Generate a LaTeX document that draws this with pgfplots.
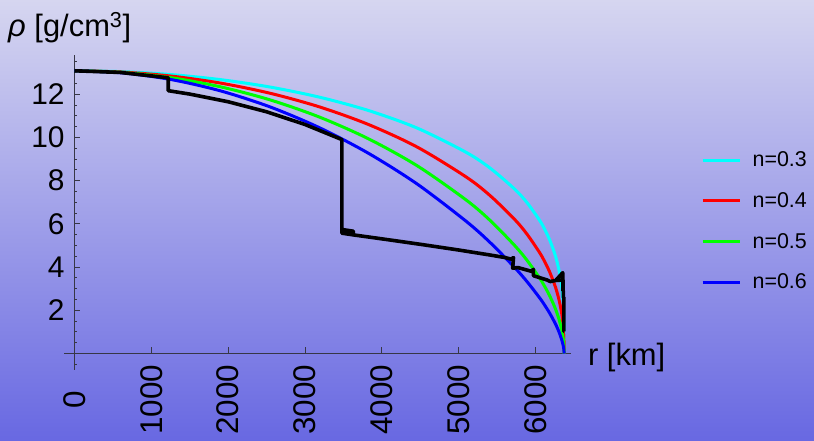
\documentclass[border=0pt]{standalone}
\usepackage{fontspec}
\setmainfont{Liberation Sans}
\usepackage{pgfplots}
\pgfplotsset{compat=1.18}
\definecolor{bgtop}{RGB}{214,214,240}
\definecolor{bgbot}{RGB}{104,104,226}
\definecolor{axcol}{RGB}{55,55,70}
\definecolor{ccyan}{RGB}{0,255,255}
\definecolor{cred}{RGB}{255,0,0}
\definecolor{cgreen}{RGB}{0,255,0}
\definecolor{cblue}{RGB}{0,0,255}
\begin{document}
\begin{tikzpicture}
\useasboundingbox (0,0) rectangle (814bp,441bp);
\shade[top color=bgtop, bottom color=bgbot] (0,0) rectangle (814bp,441bp);
\begin{axis}[
  at={(64.0bp,71.1bp)}, anchor=south west,
  x=0.0769bp, y=21.6bp,
  xmin=-134, xmax=6456, ymin=-0.76, ymax=13.82,
  axis lines=middle,
  axis line style={-, draw=axcol, line width=1bp},
  clip=false,
  hide obscured x ticks=false,
  hide obscured y ticks=false,
  xtick={0,1000,2000,3000,4000,5000,6000},
  ytick={2,4,6,8,10,12},
  minor ytick={-0.5,0.5,1,...,13.5},
  tick align=inside,
  major tick length=6bp, minor tick length=3bp,
  every tick/.style={draw=axcol, line width=0.8bp},
  /pgf/number format/assume math mode=true,
  /pgf/number format/1000 sep={},
  xticklabel style={font=\fontsize{31.5}{31.5}\selectfont, rotate=90, anchor=center, inner sep=0pt},
  xticklabel shift=46.5bp,
  yticklabel style={font=\fontsize{30}{30}\selectfont, anchor=east, inner sep=0pt},
  yticklabel shift=9.5bp,
  xlabel={r [km]},
  ylabel={\textit{ρ} [g/cm\textsuperscript{3}]},
  every axis x label/.style={at={(axis description cs:1.0339,0.0124)}, anchor=base west, inner sep=0pt, font=\fontsize{31}{31}\selectfont},
  every axis y label/.style={at={(axis description cs:-0.1105,1.0572)}, anchor=base west, inner sep=0pt, font=\fontsize{31}{31}\selectfont},
  legend cell align=left,
  legend image code/.code={\draw[#1] (0bp,0bp) -- (37bp,0bp);},
  legend style={at={(axis description cs:1.2569,0.6932)}, anchor=north west, draw=none, fill=none, inner sep=0pt, row sep=24.3bp, column sep=11.5bp, font=\fontsize{21.5}{21.5}\selectfont, nodes={inner sep=0pt}},
]
\addplot[ccyan, line width=3bp, smooth] coordinates {(0,13.09)(637.1,13.045)(1274.2,12.908)(1911.3,12.674)(2548.4,12.333)(3185.5,11.868)(3822.6,11.252)(4459.7,10.434)(5096.8,9.310)(5415.4,8.560)(5733.9,7.586)(5893.2,6.957)(6052.5,6.158)(6116.2,5.756)(6179.9,5.277)(6243.6,4.668)(6275.4,4.280)(6307.3,3.788)(6339.1,3.074)(6358.3,2.334)(6364.6,1.896)(6367.8,1.539)(6370.4,0.950)(6371,0)};
\addlegendentry{n=0.3}
\addplot[cred, line width=3bp, smooth] coordinates {(0,13.09)(637.1,13.027)(1274.2,12.836)(1911.3,12.512)(2548.4,12.045)(3185.5,11.419)(3822.6,10.605)(4459.7,9.556)(5096.8,8.170)(5415.4,7.284)(5733.9,6.178)(5893.2,5.497)(6052.5,4.664)(6116.2,4.260)(6179.9,3.792)(6243.6,3.218)(6275.4,2.865)(6307.3,2.433)(6339.1,1.842)(6358.3,1.276)(6364.6,0.966)(6370.4,0.384)(6371,0)};
\addlegendentry{n=0.4}
\addplot[cgreen, line width=3bp, smooth] coordinates {(0,13.09)(637.1,13.007)(1274.2,12.758)(1911.3,12.337)(2548.4,11.738)(3185.5,10.948)(3822.6,9.944)(4459.7,8.689)(5096.8,7.104)(5415.4,6.134)(5733.9,4.971)(5893.2,4.287)(6052.5,3.486)(6116.2,3.111)(6179.9,2.687)(6243.6,2.188)(6275.4,1.892)(6307.3,1.542)(6339.1,1.088)(6358.3,0.687)(6364.6,0.486)(6371,0)};
\addlegendentry{n=0.5}
\addplot[cblue, line width=3bp, smooth] coordinates {(0,13.09)(637.1,12.986)(1274.2,12.672)(1911.3,12.148)(2548.4,11.412)(3185.5,10.457)(3822.6,9.274)(4459.7,7.844)(5096.8,6.118)(5415.4,5.111)(5733.9,3.953)(5893.2,3.302)(6052.5,2.571)(6116.2,2.242)(6179.9,1.880)(6243.6,1.468)(6275.4,1.233)(6307.3,0.964)(6339.1,0.634)(6358.3,0.365)(6364.6,0.241)(6371,0)};
\addlegendentry{n=0.6}
\addplot[black, line width=3.6bp, line join=round, forget plot] coordinates {(0,13.0885)(600,13.0101)(1221.5,12.7636)(1221.5,12.1663)(1500,12.0099)(2000,11.6548)(2500,11.1907)(3000,10.6015)(3480,9.9035)(3480,5.57)(3630,5.49)(3630,5.66)(3480,5.74)(3480,5.57)(3630,5.49)(4000,5.3073)(4500,5.0547)(5000,4.7899)(5400,4.5631)(5600,4.4432)(5680,4.37)(5712,4.44)(5701,3.95)(5771,3.9758)(5950,3.80)(5971,3.90)(5971,3.60)(6151,3.40)(6190,3.33)(6260,3.38)(6352,3.74)(6352,3.40)(6260,3.38)(6356,3.40)(6356,2.9)(6360,2.9)(6360,2.6)(6366,2.6)(6366,1.02)(6371,1.02)};
\end{axis}
\end{tikzpicture}
\end{document}
